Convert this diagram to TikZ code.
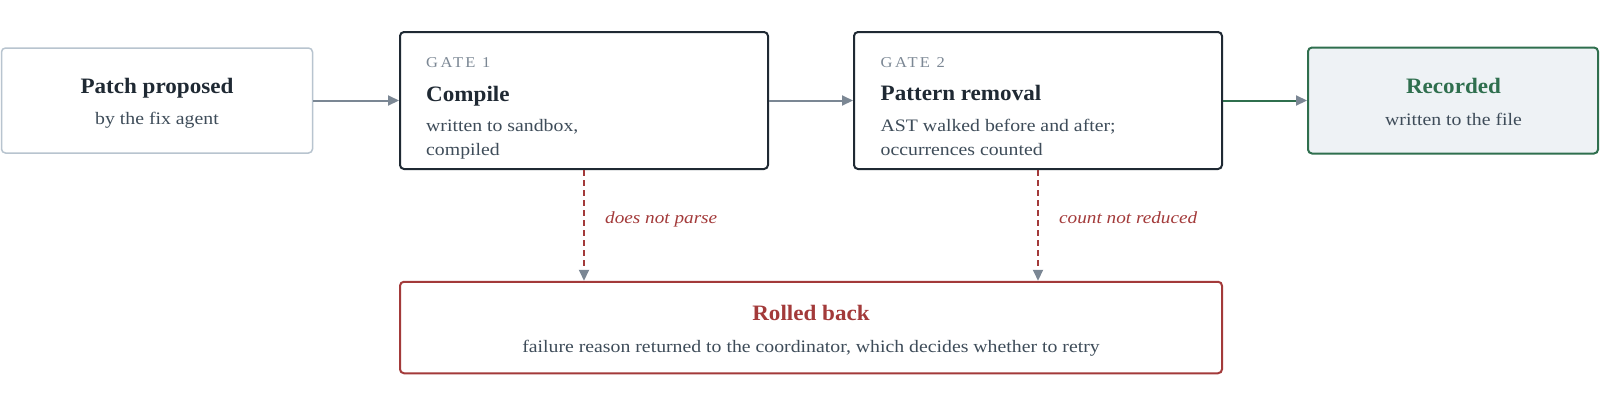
\documentclass[tikz,border=0pt]{standalone}
\usepackage{fontspec}
\setmainfont{Liberation Serif}[FakeStretch=1.13]
\newfontfamily\titlefont{Liberation Serif}[FakeStretch=1.05]
\newfontfamily\gatefont{Liberation Serif}[FakeStretch=1.1,LetterSpace=16]
\usetikzlibrary{arrows.meta}
\definecolor{ink}{HTML}{1F2933}
\definecolor{subtx}{HTML}{3E4C59}
\definecolor{muted}{HTML}{7B8794}
\definecolor{pale}{HTML}{B8C4CF}
\definecolor{okgreen}{HTML}{2F6F4E}
\definecolor{okfill}{HTML}{EEF2F5}
\definecolor{bad}{HTML}{A33A3A}
\tikzset{
  box/.style={draw, rounded corners=4pt, line width=2pt, inner sep=0pt, fill=white},
  ttl/.style={font=\titlefont\bfseries\fontsize{22}{26}\selectfont, text=ink, inner sep=0pt},
  body/.style={font=\fontsize{17.5}{21}\selectfont, text=subtx, inner sep=0pt},
  gatelbl/.style={font=\gatefont\fontsize{15}{17}\selectfont, text=muted, inner sep=0pt},
  lbl/.style={font=\itshape\fontsize{17}{20}\selectfont, text=bad, inner sep=0pt},
  tipgrey/.style={-{Triangle[length=11pt,width=10pt,color=muted]}},
  flow/.style={draw=muted, line width=2pt, tipgrey},
  okflow/.style={draw=okgreen, line width=2pt, tipgrey},
  fail/.style={draw=bad, line width=2pt, dash pattern=on 6pt off 4pt, tipgrey}
}
\begin{document}
\begin{tikzpicture}[x=1pt,y=-1pt]
\useasboundingbox[fill=white] (0,0) rectangle (1600,400);
% boxes
\node[box, draw=pale, line width=1.5pt, minimum width=311pt, minimum height=105pt] (patch) at (157,100.5) {};
\node[box, draw=ink, minimum width=368pt, minimum height=137pt] (gate1) at (584,100.5) {};
\node[box, draw=ink, minimum width=368pt, minimum height=137pt] (gate2) at (1038,100.5) {};
\node[box, draw=okgreen, fill=okfill, minimum width=290pt, minimum height=106pt] (rec) at (1453,100.5) {};
\node[box, draw=bad, minimum width=822pt, minimum height=91.5pt] (roll) at (811,327.5) {};
% texts
\node[ttl, anchor=base] (patchT) at (157,93) {Patch proposed};
\node[body, anchor=base] (patchS) at (157,124.3) {by the fix agent};
\node[gatelbl, anchor=base west] (g1L) at (426,67.7) {GATE 1};
\node[ttl, anchor=base west] (g1T) at (426,101) {Compile};
\node[body, anchor=base west] (g1A) at (426,131.7) {written to sandbox,};
\node[body, anchor=base west] (g1B) at (426,155) {compiled};
\node[gatelbl, anchor=base west] (g2L) at (880.5,67.5) {GATE 2};
\node[ttl, anchor=base west] (g2T) at (880.5,100.5) {Pattern removal};
\node[body, anchor=base west] (g2A) at (880.5,131.7) {AST walked before and after;};
\node[body, anchor=base west] (g2B) at (880.5,155) {occurrences counted};
\node[ttl, text=okgreen, anchor=base] (recT) at (1453.5,93.3) {Recorded};
\node[body, anchor=base] (recS) at (1453.5,125) {written to the file};
\node[ttl, text=bad, anchor=base] (rollT) at (811,320) {Rolled back};
\node[body, anchor=base] (rollS) at (811,352) {failure reason returned to the coordinator, which decides whether to retry};
% connectors
\draw[flow] (patch.east) -- (gate1.west);
\draw[flow] (gate1.east) -- (gate2.west);
\draw[okflow] (gate2.east) -- (rec.west);
\draw[fail] (gate1.south) -- (gate1.south |- roll.north);
\draw[fail] (gate2.south) -- (gate2.south |- roll.north);
\node[lbl, anchor=base west] (f1) at (605,223) {does not parse};
\node[lbl, anchor=base west] (f2) at (1059,223) {count not reduced};
\end{tikzpicture}
\end{document}
